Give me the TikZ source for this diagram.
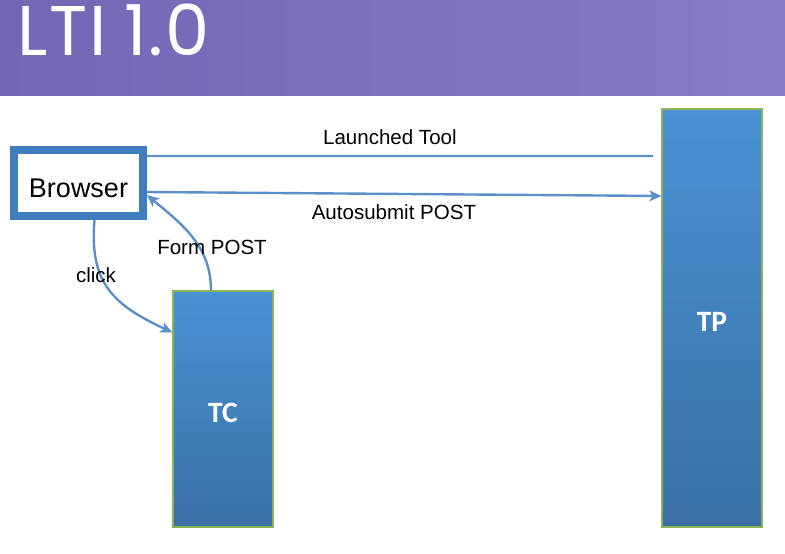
\documentclass[tikz,border=0pt]{standalone}
\usepackage{fontspec}
\setmainfont{Liberation Sans}
\newfontfamily\titlefont[LetterSpace=2.5]{Poppins}
\newfontfamily\boxfont{Carlito}
\usetikzlibrary{arrows.meta}

\definecolor{barleft}{HTML}{7466B5}
\definecolor{barright}{HTML}{867BC4}
\definecolor{brwblue}{HTML}{3E7DBE}
\definecolor{linkblue}{HTML}{5B8FC8}
\definecolor{srvtop}{HTML}{4A92D3}
\definecolor{srvbot}{HTML}{3A70A6}
\definecolor{srvedge}{HTML}{8DB255}

\begin{document}
\begin{tikzpicture}[x=0.025cm,y=-0.025cm,>={Stealth[length=0.3cm,width=0.27cm,inset=0.08cm]},
    brw/.style={rectangle,draw=brwblue,line width=0.2cm,fill=white,minimum width=3.225cm,minimum height=1.65cm,text height=21pt,text depth=0pt,font=\fontsize{19.2}{22}\selectfont},
    srv/.style={rectangle,draw=srvedge,line width=0.8pt,top color=srvtop,bottom color=srvbot,minimum width=2.5cm,text height=19.5pt,text depth=0pt,text=white,font=\boxfont\bfseries\fontsize{21}{24}\selectfont},
    lnk/.style={draw=linkblue,line width=1.7pt},
    lbl/.style={font=\fontsize{14.6}{17}\selectfont,inner sep=2pt}]
    \useasboundingbox (0,0) rectangle (785,554);

    % title bar
    \fill[left color=barleft,right color=barright] (0,0) rectangle (785,95);
    \node[anchor=base west,inner sep=0,text=white,font=\titlefont\fontsize{50}{54}\selectfont] (title) at (17,55) {LTI\hspace{0.45cm}1.0};

    % browser and the two servers
    \node[brw] (brw) at (78.5,183) {Browser};
    \node[srv,minimum height=5.9cm] (tc) at (223,409) {TC};
    \node[srv,minimum height=10.45cm] (tp) at (712,318) {TP};
    \coordinate (lte) at (653,156);

    % connectors
    \draw[lnk] ([yshift=0.675cm]brw.east) -- (lte) node[lbl,above=5pt,pos=0.48] (ltl) {Launched Tool};
    \draw[lnk,->] ([yshift=-0.225cm]brw.east) -- ([yshift=3.05cm]tp.west) node[lbl,below=5pt,pos=0.48] (asl) {Autosubmit POST};
    \draw[lnk,->] ([xshift=0.4cm]brw.south) to[out=-95,in=155,looseness=1.2] ([yshift=-1.05cm]tc.north west);
    \draw[lnk,->] ([xshift=-0.3cm]tc.north) to[out=90,in=-40] ([yshift=-0.3cm]brw.east);
    \node[lbl] (clk) at (96,275) {click};
    \node[lbl] (fpl) at (212,247) {Form POST};
\end{tikzpicture}
\end{document}
